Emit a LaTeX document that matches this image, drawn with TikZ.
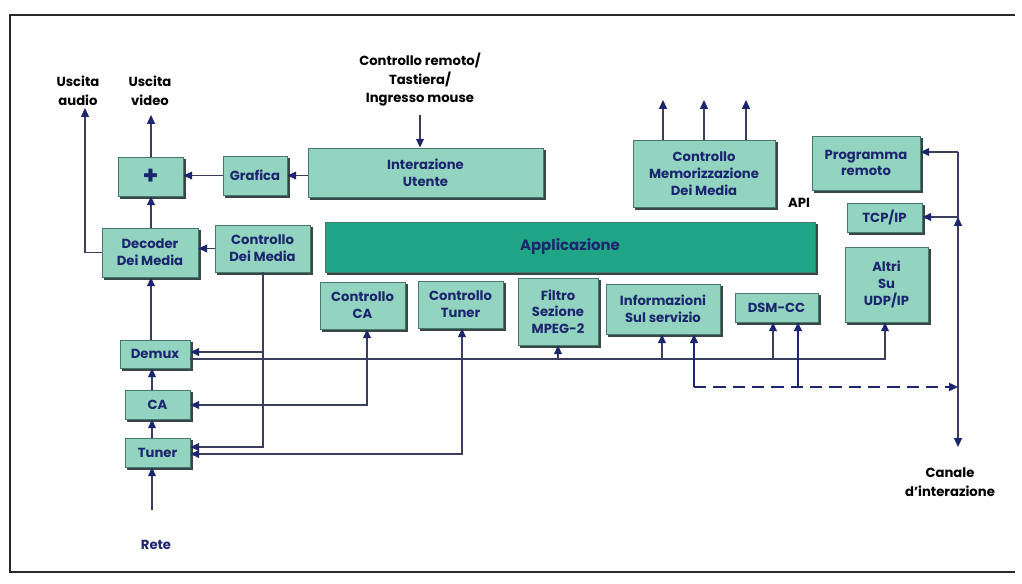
\documentclass[tikz,border=0pt]{standalone}
\usepackage{fontspec}
\setmainfont{Poppins}
\usetikzlibrary{arrows.meta,backgrounds}

\definecolor{boxfill}{RGB}{146,212,192}
\definecolor{boxedge}{RGB}{70,120,110}
\definecolor{appfill}{RGB}{32,165,135}
\definecolor{navy}{RGB}{28,38,110}
\definecolor{linec}{RGB}{60,62,95}
\definecolor{framec}{RGB}{40,40,40}
\definecolor{shadowc}{RGB}{55,70,70}

\tikzset{
  sz/.style 2 args={minimum width=#1*0.02cm, minimum height=#2*0.02cm},
  box/.style={rectangle, draw=boxedge, line width=0.5pt, fill=boxfill,
    text=navy, font=\bfseries\fontsize{7.5}{9.5}\selectfont, align=center,
    inner sep=1pt},
  appbox/.style={box, fill=appfill, font=\bfseries\fontsize{8.5}{10}\selectfont},
  lbl/.style={font=\bfseries\fontsize{7.5}{10.5}\selectfont, align=center, text=black, inner sep=0pt},
  conn/.style={draw=linec, line width=0.6pt},
  arr/.style={conn, -{Triangle[length=5pt,width=4.5pt,color=navy]}},
  arrtwo/.style={conn, {Triangle[length=5pt,width=4.5pt,color=navy]}-{Triangle[length=5pt,width=4.5pt,color=navy]}},
  arrthick/.style={arr, line width=1.1pt, draw=navy},
  dasharr/.style={arr, line width=1.1pt, draw=navy, dash pattern=on 7pt off 4pt}
}

\begin{document}
\begin{tikzpicture}[x=0.02cm,y=-0.02cm]
\useasboundingbox (0,0) rectangle (1022,584);

% outer frame
\draw[framec, line width=0.8pt] (1015,15) -- (10,15) -- (10,572) -- (1015,572);

% ---- blocks ----
\node[box, sz={65}{39}, font=\bfseries\Large] (plus) at (150.5,176.5) {+};
\node[box, sz={64}{39}]   (grafica) at (255,175.5)   {Grafica};
\node[box, sz={235}{49}]  (interaz) at (425.5,172.5) {Interazione\\Utente};
\node[box, sz={142}{67}]  (cmem)    at (704,173.5)   {Controllo\\Memorizzazione\\Dei Media};
\node[box, sz={108}{54}]  (progr)   at (866,163)     {Programma\\remoto};
\node[box, sz={75}{29}]   (tcp)     at (884.5,217.5) {TCP/IP};
\node[box, sz={83}{75}]   (altri)   at (886.5,284.5) {Altri\\Su\\UDP/IP};
\node[box, sz={96}{49}]   (decoder) at (150,252.5)   {Decoder\\Dei Media};
\node[box, sz={95}{47}]   (cdm)     at (262.5,248.5) {Controllo\\Dei Media};
\node[appbox, sz={490}{50}] (app)   at (570,247)     {Applicazione};
\node[box, sz={85}{47}]   (cca)     at (362.5,305.5) {Controllo\\CA};
\node[box, sz={85}{47}]   (ctuner)  at (460.5,304.5) {Controllo\\Tuner};
\node[box, sz={80}{67}]   (filtro)  at (558,311.5)   {Filtro\\Sezione\\MPEG-2};
\node[box, sz={114}{50}]  (info)    at (663,309)     {Informazioni\\Sul servizio};
\node[box, sz={83}{29}]   (dsm)     at (776.5,307.5) {DSM-CC};
\node[box, sz={70}{28}]   (demux)   at (155,354)     {Demux};
\node[box, sz={65}{29}]   (ca)      at (157.5,404.5) {CA};
\node[box, sz={65}{29}]   (tuner)   at (157.5,452.5) {Tuner};

% ---- shadows behind the blocks ----
\begin{scope}[on background layer]
  \fill[white] (0,0) rectangle (1022,584);
  \foreach \n in {plus,grafica,interaz,cmem,progr,tcp,altri,decoder,cdm,app,
                  cca,ctuner,filtro,info,dsm,demux,ca,tuner}
    \fill[shadowc] ([shift={(1.6pt,-1.6pt)}]\n.south west) rectangle ([shift={(1.6pt,-1.6pt)}]\n.north east);
\end{scope}

% ---- free labels ----
\node[lbl] (uaudio) at (78,91)  {Uscita\\audio};
\node[lbl] (uvideo) at (150,91) {Uscita\\video};
\node[lbl] (remote) at (420,80) {Controllo remoto/\\Tastiera/\\Ingresso mouse};
\node[lbl] (api)    at (799,203) {API};
\node[lbl] (canale) at (950,482) {Canale\\d'interazione};
\node[lbl, text=navy] (rete) at (156,545) {Rete};

% ---- connector end points ----
\coordinate (col)   at (152,0);
\coordinate (colb)  at (151,0);
\coordinate (reteup) at (152,510);
\coordinate (vid)   at (151,115);
\coordinate (aud)   at (85,108);
\coordinate (kbd)   at (420,115);
\coordinate (u1) at (663,100);
\coordinate (u2) at (704,100);
\coordinate (u3) at (746,100);
\coordinate (rtop) at (958,152);
\coordinate (rmid) at (958,217);
\coordinate (rup)  at (958,240);
\coordinate (rbot) at (958,447);
\coordinate (bus)  at (190,359);
\coordinate (busR) at (885,359);
\coordinate (i1) at (662,359);
\coordinate (d1) at (773,359);
\coordinate (i2) at (694,387);
\coordinate (d2) at (798,387);
\coordinate (cx) at (263,447);
\coordinate (cy) at (263,352);
\coordinate (cacorner) at (367,405);
\coordinate (tucorner) at (462,454);

% ---- signal chain on the left ----
\draw[arr] (reteup) -- (tuner.south -| col);
\draw[arr] (tuner.north -| col) -- (ca.south -| col);
\draw[arr] (ca.north -| col) -- (demux.south -| col);
\draw[arr] (demux.north -| colb) -- (decoder.south -| colb);
\draw[arr] (decoder.north -| colb) -- (plus.south -| colb);
\draw[arr] (plus.north -| colb) -- (vid);
\draw[arr] (decoder.west) -| (aud);
\draw[arr] (grafica.west) -- (plus.east |- grafica.west);
\draw[arr] (interaz.west |- grafica.east) -- (grafica.east);
\draw[arr] (kbd) -- (interaz.north -| kbd);
\draw[arr] (cdm.west) -- (decoder.east |- cdm.west);

% ---- media storage outputs ----
\draw[arr] (cmem.north -| u1) -- (u1);
\draw[arr] (cmem.north -| u2) -- (u2);
\draw[arr] (cmem.north -| u3) -- (u3);

% ---- interaction channel ----
\draw[arr] (rtop) -- (progr.east |- rtop);
\draw[arr] (rtop) -- (rbot);
\draw[arr] (rmid) -- (tcp.east |- rmid);
\draw[arr] (rup) -- (rmid);

% ---- control lines ----
\draw[arr] (cdm.south -| cx) -- (cx) -- (tuner.east |- cx);
\draw[arr] (cy) -- (demux.east |- cy);
\draw[arrtwo] (ca.east |- cacorner) -- (cacorner) -- (cca.south -| cacorner);
\draw[arrtwo] (tuner.east |- tucorner) -- (tucorner) -- (ctuner.south -| tucorner);

% ---- transport stream bus ----
\draw[arr] (bus) -- (busR) -- (altri.south -| busR);
\draw[arr] (filtro.south |- bus) -- (filtro.south);
\draw[arr] (i1) -- (info.south -| i1);
\draw[arr] (d1) -- (dsm.south -| d1);
\draw[arrthick] (i2) -- (info.south -| i2);
\draw[arrthick] (d2) -- (dsm.south -| d2);
\draw[dasharr] (i2) -- (rbot |- i2);
\end{tikzpicture}
\end{document}
